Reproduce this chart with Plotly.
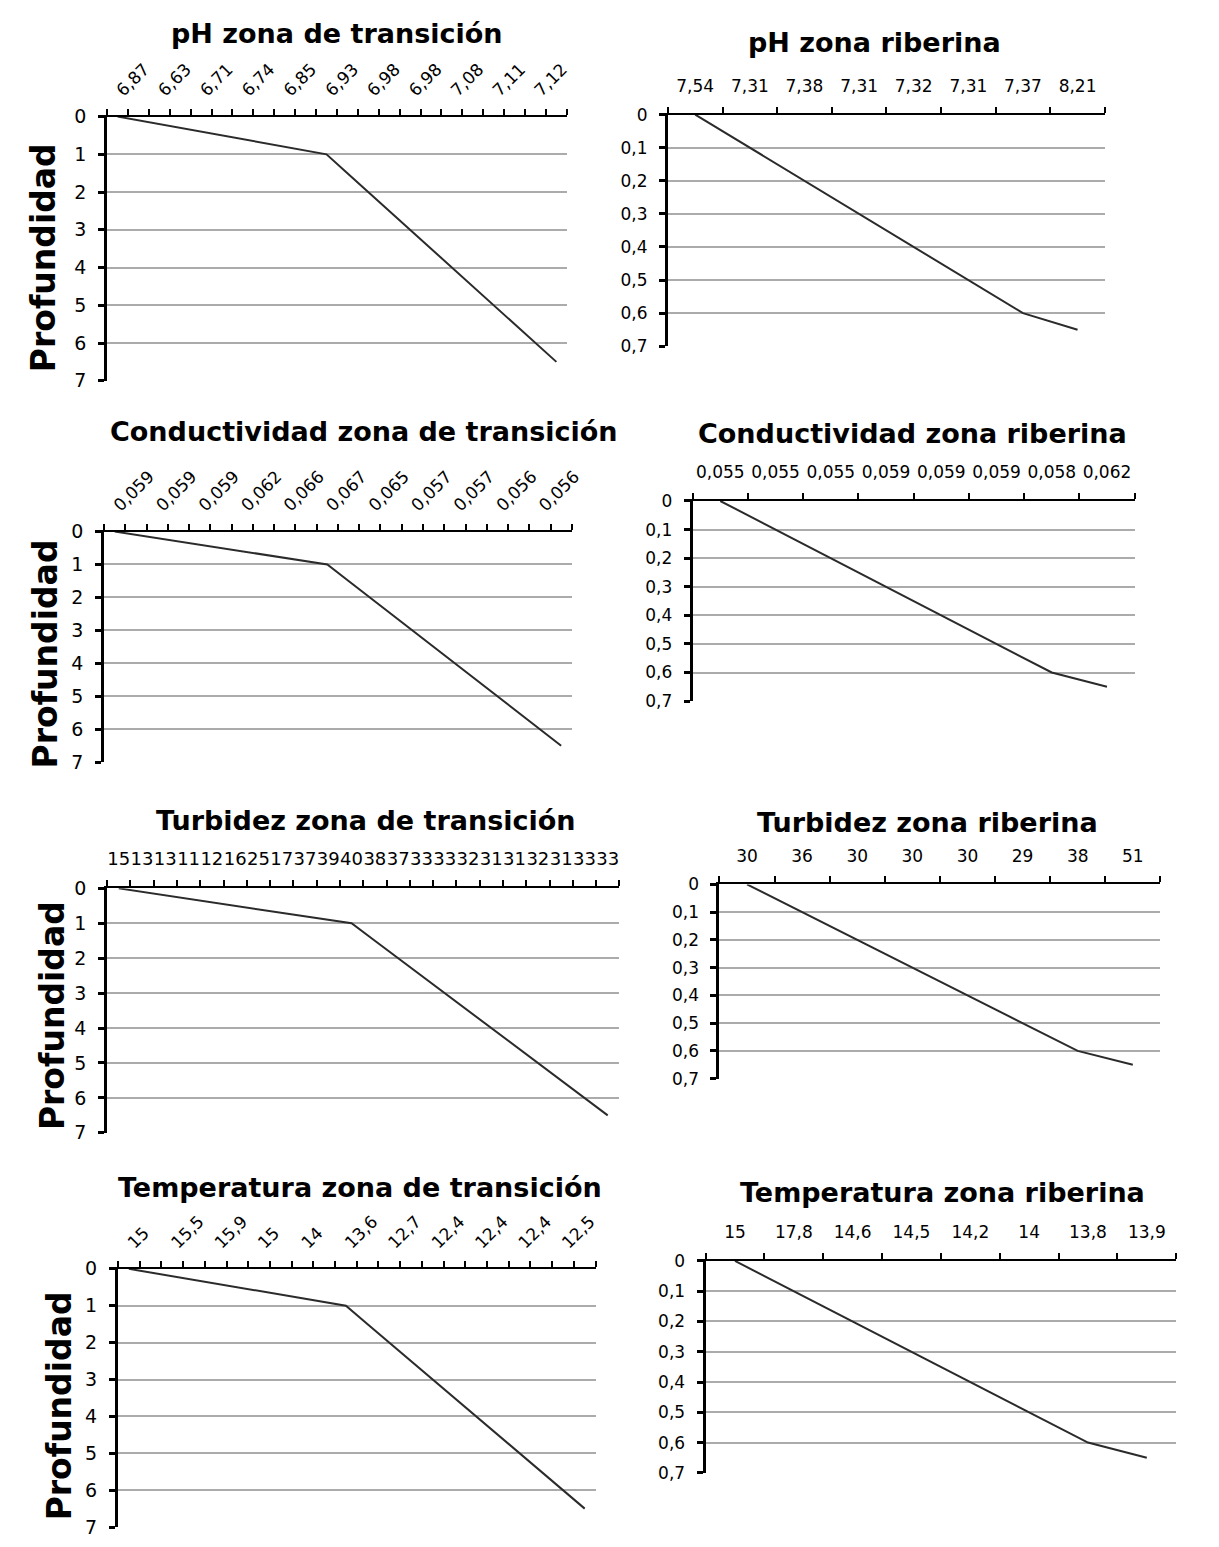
import plotly.graph_objects as go

# page is 1219x1547; the html body keeps its default 8px margin
PAGE_W, PAGE_H, BODY_M = 1219, 1547, 8
W, H = PAGE_W - 2 * BODY_M, PAGE_H - 12

# ---------------- data ----------------
depth_transicion = [0, 0.1, 0.2, 0.3, 0.4, 0.5, 0.6, 0.7, 0.8, 0.9, 1.0,
                    1.5, 2.0, 2.5, 3.0, 3.5, 4.0, 4.5, 5.0, 5.5, 6.0, 6.5]
depth_riberina = [0, 0.1, 0.2, 0.3, 0.4, 0.5, 0.6, 0.65]

ph_transicion_labels = ["6,87", "6,63", "6,71", "6,74", "6,85", "6,93",
                        "6,98", "6,98", "7,08", "7,11", "7,12"]
ph_riberina_labels = ["7,54", "7,31", "7,38", "7,31", "7,32", "7,31", "7,37", "8,21"]

cond_transicion_labels = ["0,059", "0,059", "0,059", "0,062", "0,066", "0,067",
                          "0,065", "0,057", "0,057", "0,056", "0,056"]
cond_riberina_labels = ["0,055", "0,055", "0,055", "0,059", "0,059", "0,059", "0,058", "0,062"]

turb_transicion_labels = ["15", "13", "13", "11", "12", "16", "25", "17", "37", "39", "40",
                          "38", "37", "33", "33", "32", "31", "31", "32", "31", "33", "33"]
turb_riberina_labels = ["30", "36", "30", "30", "30", "29", "38", "51"]

temp_transicion_labels = ["15", "15,5", "15,9", "15", "14", "13,6",
                          "12,7", "12,4", "12,4", "12,4", "12,5"]
temp_riberina_labels = ["15", "17,8", "14,6", "14,5", "14,2", "14", "13,8", "13,9"]

titles = ["pH zona de transición", "pH zona riberina",
          "Conductividad zona de transición", "Conductividad zona riberina",
          "Turbidez zona de transición", "Turbidez zona riberina",
          "Temperatura zona de transición", "Temperatura zona riberina"]
y_title = "Profundidad"

# ---------------- layout of panels (page pixel boxes) ----------------
panels = [
    dict(depth=depth_transicion, labels=ph_transicion_labels, step=2, ymax=7, dtick=1,
         box=(108, 572, 107, 375), angle=-45, title_xy=(340, 23), ylab_xy=(44, 250), xfs=17),
    dict(depth=depth_riberina, labels=ph_riberina_labels, step=1, ymax=0.7, dtick=0.1,
         box=(674, 1115, 105, 340), angle=0, title_xy=(882, 32), ylab_xy=None, xfs=17),
    dict(depth=depth_transicion, labels=cond_transicion_labels, step=2, ymax=7, dtick=1,
         box=(105, 577, 528, 762), angle=-45, title_xy=(367, 427), ylab_xy=(46, 652), xfs=17),
    dict(depth=depth_riberina, labels=cond_riberina_labels, step=1, ymax=0.7, dtick=0.1,
         box=(699, 1145, 497, 700), angle=0, title_xy=(921, 429), ylab_xy=None, xfs=17),
    dict(depth=depth_transicion, labels=turb_transicion_labels, step=1, ymax=7, dtick=1,
         box=(108, 625, 890, 1138), angle=0, title_xy=(369, 821), ylab_xy=(53, 1019), xfs=18),
    dict(depth=depth_riberina, labels=turb_riberina_labels, step=1, ymax=0.7, dtick=0.1,
         box=(726, 1171, 886, 1083), angle=0, title_xy=(936, 823), ylab_xy=None, xfs=17),
    dict(depth=depth_transicion, labels=temp_transicion_labels, step=2, ymax=7, dtick=1,
         box=(119, 601, 1276, 1538), angle=-45, title_xy=(363, 1193), ylab_xy=(60, 1415), xfs=17),
    dict(depth=depth_riberina, labels=temp_riberina_labels, step=1, ymax=0.7, dtick=0.1,
         box=(712, 1187, 1268, 1483), angle=0, title_xy=(951, 1199), ylab_xy=None, xfs=17),
]

FONT = "DejaVu Sans, Verdana, sans-serif"
fig = go.Figure()
layout = dict(
    width=W, height=H,
    margin=dict(l=0, r=0, t=0, b=0, pad=0),
    paper_bgcolor="white", plot_bgcolor="white",
    showlegend=False,
    separators=",.",
    font=dict(family=FONT, color="black"),
    annotations=[],
)


def px_x(v):
    return (v - BODY_M) / W


def px_y(v):
    return 1 - (v - BODY_M) / H


for i, p in enumerate(panels, start=1):
    n = len(p["depth"])
    xs = list(range(n))
    fig.add_trace(go.Scatter(
        x=xs, y=p["depth"], mode="lines",
        line=dict(color="#2b2b2b", width=2),
        xaxis=f"x{i}", yaxis=f"y{i}", hoverinfo="skip",
    ))
    x0, x1, y0, y1 = p["box"]
    tickvals = xs[::p["step"]][:len(p["labels"])]
    layout[f"xaxis{i}"] = dict(
        domain=[px_x(x0), px_x(x1)],
        anchor=f"y{i}", side="top",
        range=[-0.5, n - 0.5],
        tickmode="array", tickvals=tickvals, ticktext=p["labels"],
        tickangle=p["angle"],
        ticks="", ticklabelstandoff=14 if p["angle"] == 0 else 8,
        tickfont=dict(size=p["xfs"], family=FONT, color="black"),
        minor=dict(tickmode="linear", tick0=-0.5, dtick=1, ticks="outside",
                   ticklen=6, tickwidth=2, tickcolor="black", showgrid=False),
        showline=True, linecolor="black", linewidth=2,
        showgrid=False, zeroline=False, fixedrange=True,
    )
    layout[f"yaxis{i}"] = dict(
        domain=[px_y(y1), px_y(y0)],
        anchor=f"x{i}",
        range=[p["ymax"], 0],
        tickmode="linear", tick0=0, dtick=p["dtick"],
        ticks="outside", ticklen=6, tickwidth=3, tickcolor="black",
        ticklabelstandoff=8,
        tickfont=dict(size=19 if p["ymax"] > 1 else 17, family=FONT, color="black"),
        showline=True, linecolor="black", linewidth=3,
        showgrid=True, gridcolor="#ababab", gridwidth=2,
        zeroline=False, fixedrange=True,
    )
    tx, ty = p["title_xy"]
    layout["annotations"].append(dict(
        text=titles[i - 1], x=px_x(tx), y=px_y(ty), xref="paper", yref="paper",
        xanchor="center", yanchor="middle", showarrow=False,
        font=dict(size=27, family=FONT, color="black", weight="bold"),
    ))
    if p["ylab_xy"] is not None:
        lx, ly = p["ylab_xy"]
        layout["annotations"].append(dict(
            text=y_title, x=px_x(lx), y=px_y(ly), xref="paper", yref="paper",
            xanchor="center", yanchor="middle", showarrow=False, textangle=-90,
            font=dict(size=33, family=FONT, color="black", weight="bold"),
        ))

fig.update_layout(**layout)
fig.write_html("out.html")
